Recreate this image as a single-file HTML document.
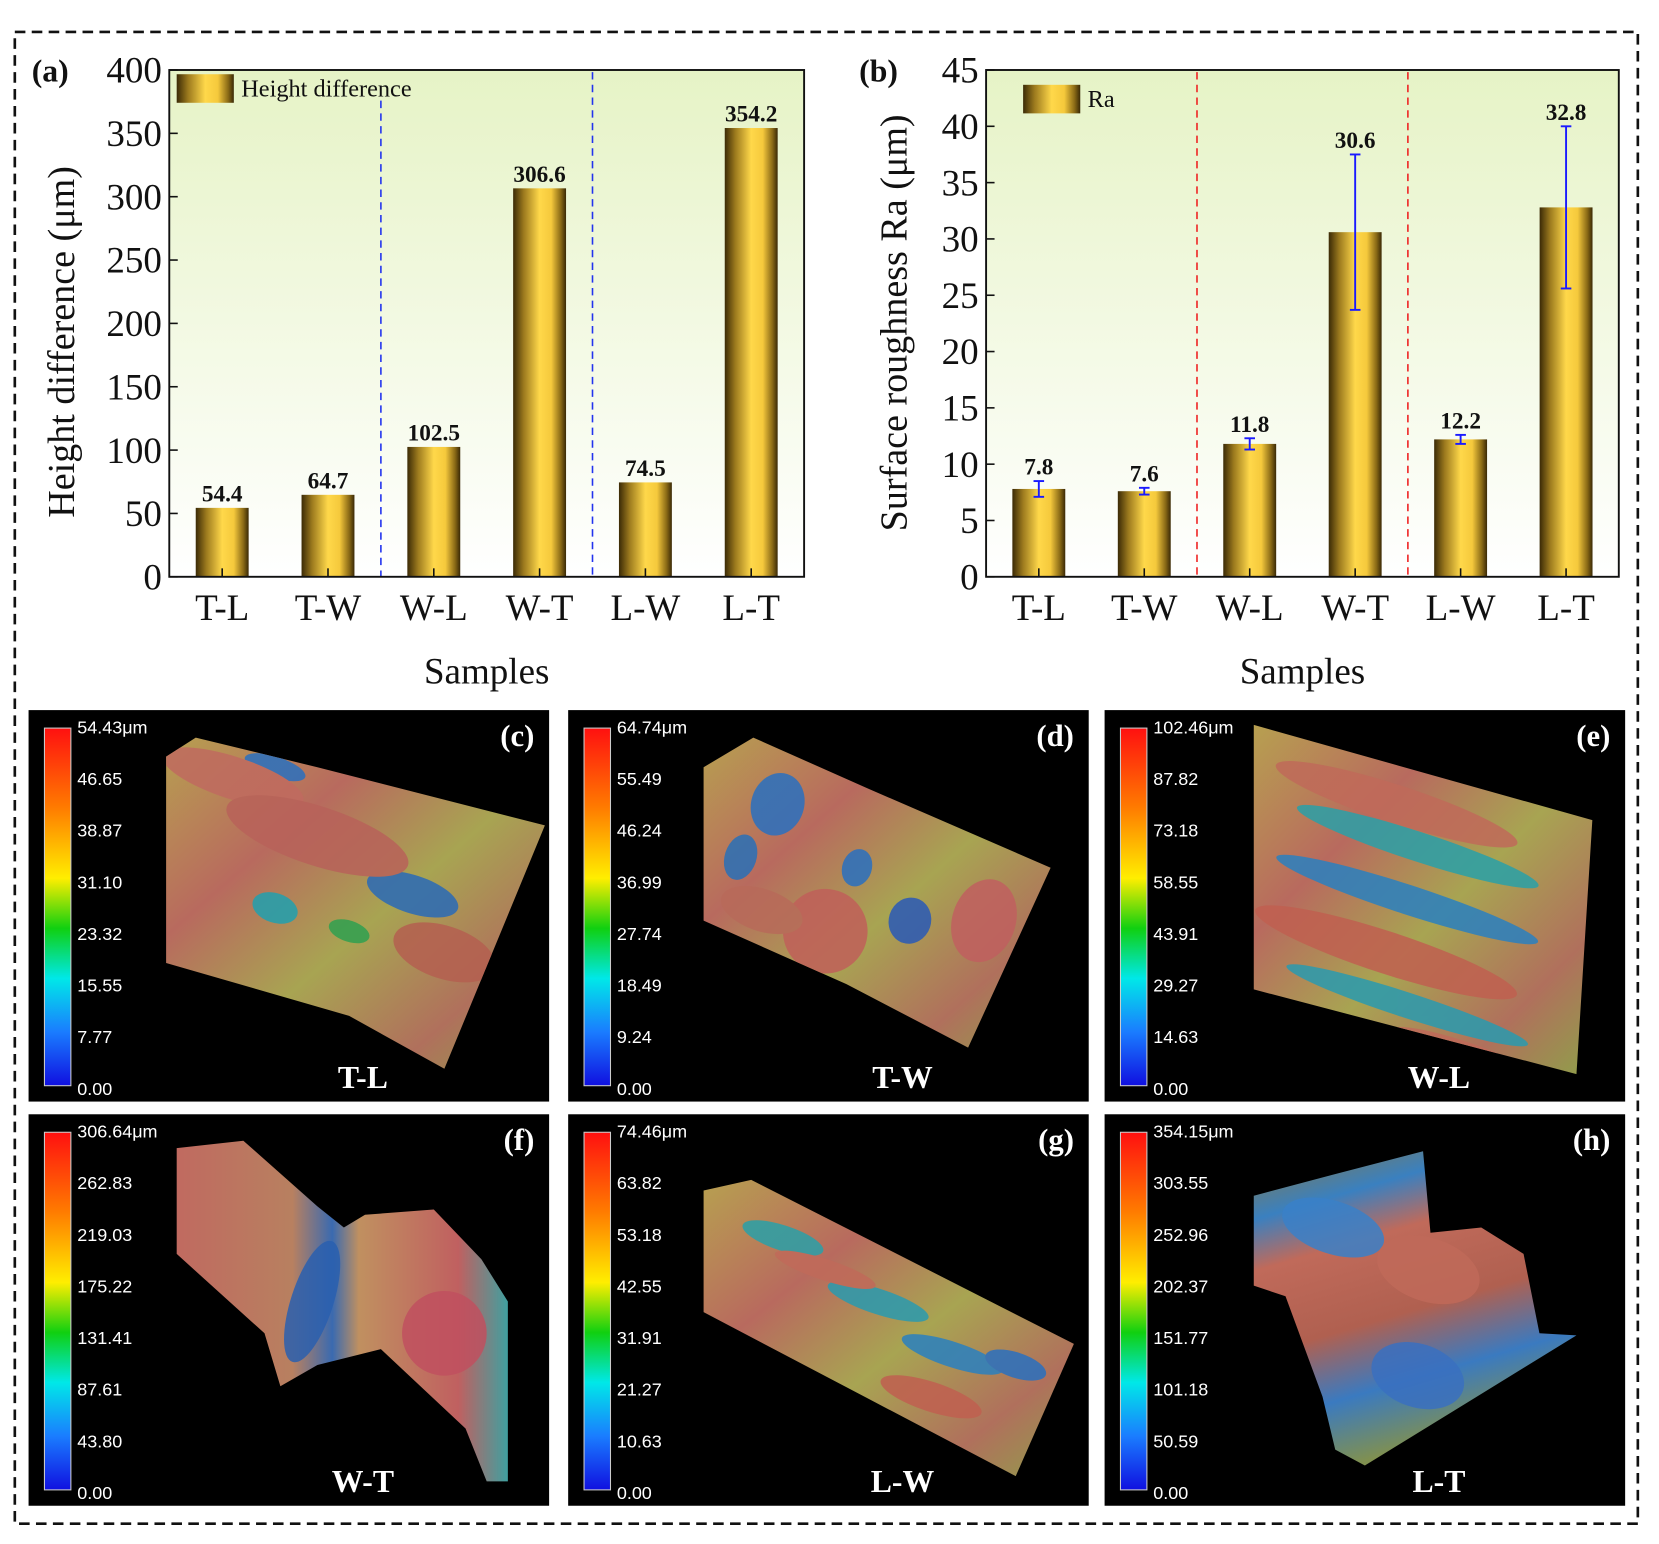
<!DOCTYPE html>
<html><head><meta charset="utf-8"><style>
html,body{margin:0;padding:0;background:#fff;width:1659px;height:1544px;overflow:hidden}
svg{display:block}
</style></head><body>
<svg id="fig" width="1659" height="1544" viewBox="0 0 1568 1459" xmlns="http://www.w3.org/2000/svg" font-family="'Liberation Serif', serif">
<defs>
<linearGradient id="barg" x1="0" x2="1" y1="0" y2="0">
<stop offset="0" stop-color="#3b2a06"/><stop offset="0.2" stop-color="#9c7a1e"/><stop offset="0.5" stop-color="#ffd84a"/><stop offset="0.72" stop-color="#f5c93c"/><stop offset="0.9" stop-color="#8a6a16"/><stop offset="1" stop-color="#3a2906"/>
</linearGradient>
<linearGradient id="bgg" x1="0" x2="0" y1="0" y2="1">
<stop offset="0" stop-color="#e6f3c6"/><stop offset="1" stop-color="#ffffff"/>
</linearGradient>
<linearGradient id="cbar" x1="0" x2="0" y1="0" y2="1">
<stop offset="0" stop-color="#ff1010"/><stop offset="0.22" stop-color="#ff7a00"/><stop offset="0.42" stop-color="#ffee00"/><stop offset="0.56" stop-color="#10d010"/><stop offset="0.7" stop-color="#00e8e8"/><stop offset="0.85" stop-color="#1a7cff"/><stop offset="1" stop-color="#1010e0"/>
</linearGradient>
<linearGradient id="surfA" x1="0" x2="1" y1="0" y2="1">
<stop offset="0" stop-color="#b7a050"/><stop offset="0.3" stop-color="#b86a5e"/><stop offset="0.55" stop-color="#a8a452"/><stop offset="0.8" stop-color="#b0705c"/><stop offset="1" stop-color="#8fa04a"/>
</linearGradient>
<linearGradient id="surfF" x1="0" x2="1" y1="0" y2="0">
<stop offset="0" stop-color="#c06a60"/><stop offset="0.35" stop-color="#b88060"/><stop offset="0.47" stop-color="#3a6ab0"/><stop offset="0.55" stop-color="#c09060"/><stop offset="0.85" stop-color="#c06060"/><stop offset="1" stop-color="#40a0a0"/>
</linearGradient>
<linearGradient id="surfH" x1="0" x2="0.3" y1="0" y2="1">
<stop offset="0" stop-color="#8a7a40"/><stop offset="0.2" stop-color="#3a80c0"/><stop offset="0.35" stop-color="#c06a5a"/><stop offset="0.6" stop-color="#b06050"/><stop offset="0.8" stop-color="#3a7ac0"/><stop offset="1" stop-color="#809050"/>
</linearGradient>
</defs>
<rect x="14" y="30" width="1534" height="1410" fill="none" stroke="#111" stroke-width="2.5" stroke-dasharray="10,6"/>
<g id="charts"></g>
<g id="panels"></g>
</svg>
<script>
const NS='http://www.w3.org/2000/svg';
const categories=['T-L','T-W','W-L','W-T','L-W','L-T'];
const heightValues=[54.4,64.7,102.5,306.6,74.5,354.2];
const heightTicks=[0,50,100,150,200,250,300,350,400];
const raValues=[7.8,7.6,11.8,30.6,12.2,32.8];
const raErrors=[0.7,0.3,0.5,6.9,0.4,7.2];
const raTicks=[0,5,10,15,20,25,30,35,40,45];

function mk(tag,attrs,parent){const e=document.createElementNS(NS,tag);for(const k in attrs)e.setAttribute(k,attrs[k]);parent.appendChild(e);return e;}
const charts=document.getElementById('charts');

function chart(o){
  const g=mk('g',{},charts);
  
  
  const x0=o.x0,x1=o.x1,y0=66,y1=545;
  const yS=v=>y1-(v-o.min)/(o.max-o.min)*(y1-y0);
  const bw=(x1-x0)/categories.length;
  const xC=i=>x0+bw*(i+0.5);
  const bg=mk('rect',{x:x0,y:y0,width:x1-x0,height:y1-y0,fill:'url(#bgg)'},g);
  
  
  [2,4].forEach((k,j)=>{const l=mk('line',{x1:x0+bw*k,x2:x0+bw*k,y1:o.divTop[j],y2:y1,stroke:o.divColor,'stroke-width':1.5,'stroke-dasharray':'7,5'},g);
    
    });
  o.values.forEach((v,i)=>{
    const r=mk('rect',{x:xC(i)-25,y:yS(v),width:50,height:y1-yS(v),fill:'url(#barg)'},g);
    
    
    let top=yS(v);
    if(o.errors){
      const e=o.errors[i],ya=yS(v+e),yb=yS(v-e);
      const eg=mk('g',{stroke:'#1a1aff','stroke-width':1.8},g);
      
      
      mk('line',{x1:xC(i),x2:xC(i),y1:ya,y2:yb},eg);
      mk('line',{x1:xC(i)-5,x2:xC(i)+5,y1:ya,y2:ya},eg);
      mk('line',{x1:xC(i)-5,x2:xC(i)+5,y1:yb,y2:yb},eg);
      top=Math.min(top,ya);
    }
    const t=mk('text',{x:xC(i),y:top-6,'text-anchor':'middle','font-size':22,'font-weight':'bold',fill:'#111'},g);
    t.textContent=String(v);
    
    
    mk('line',{x1:xC(i),x2:xC(i),y1:y1,y2:y1-8,stroke:'#111','stroke-width':1.5},g);
    const xl=mk('text',{x:xC(i),y:586,'text-anchor':'middle','font-size':35,fill:'#111'},g);
    xl.textContent=categories[i];
    
    
  });
  o.ticks.forEach(v=>{
    mk('line',{x1:x0,x2:x0+8,y1:yS(v),y2:yS(v),stroke:'#111','stroke-width':1.5},g);
    const t=mk('text',{x:x0-7,y:yS(v)+12,'text-anchor':'end','font-size':35,fill:'#111'},g);
    t.textContent=String(v);
    
    
  });
  const fr=mk('rect',{x:x0,y:y0,width:x1-x0,height:y1-y0,fill:'none',stroke:'#111','stroke-width':1.8},g);
  
  
  const sw=mk('rect',{x:o.legX,y:o.legY,width:54,height:27,fill:'url(#barg)'},g);
  
  
  const lt=mk('text',{x:o.legX+61,y:o.legY+21,'font-size':23,fill:'#111'},g);
  lt.textContent=o.legend;
  
  
  const pl=mk('text',{x:o.plX,y:77,'font-size':30,'font-weight':'bold',fill:'#111'},g);
  pl.textContent=o.panel;
  
  
  const xt=mk('text',{x:(x0+x1)/2,y:646,'text-anchor':'middle','font-size':35,fill:'#111'},g);
  xt.textContent='Samples';
  
  
  const yt=mk('text',{x:0,y:0,'text-anchor':'middle','font-size':36,fill:'#111',transform:`translate(${o.ytX},${o.ytY}) rotate(-90)`},g);
  yt.textContent=o.ytitle;
  
  
}
chart({name:'height-difference-chart',x0:160,x1:760,min:0,max:400,values:heightValues,ticks:heightTicks,divColor:'#2233ee',divTop:[95,68],legX:167,legY:70,legend:'Height difference',panel:'(a)',plX:30,ytX:70,ytY:323,ytitle:'Height difference (μm)'});
chart({name:'surface-roughness-chart',x0:932,x1:1530,min:0,max:45,values:raValues,errors:raErrors,ticks:raTicks,divColor:'#ee2222',divTop:[68,68],legX:967,legY:80,legend:'Ra',panel:'(b)',plX:812,ytX:857,ytY:305,ytitle:'Surface roughness Ra (μm)'});

const panelDefs=[
 {x:27,y:671,tag:'(c)',name:'T-L',max:'54.43μm',labels:['46.65','38.87','31.10','23.32','15.55','7.77','0.00'],
  poly:'157,715 185,697 300,725 515,780 420,1010 330,960 157,910',blobs:[[260,725,30,10,'#2a70c0'],[390,845,45,18,'#2a6ab8'],[260,858,22,14,'#20a0b0'],[220,735,70,20,'#c06a60'],[300,790,90,28,'#b8625a'],[420,900,50,25,'#b46050'],[330,880,20,10,'#30a050']]},
 {x:537,y:671,tag:'(d)',name:'T-W',max:'64.74μm',labels:['55.49','46.24','36.99','27.74','18.49','9.24','0.00'],
  poly:'665,725 712,697 820,745 993,820 915,990 800,930 665,870',blobs:[[735,760,25,30,'#2a70c0'],[700,810,15,22,'#2870b8'],[810,820,14,18,'#2a70c0'],[860,870,20,22,'#2a5ab8'],[780,880,40,40,'#c0605a'],[930,870,30,40,'#c06060'],[720,860,40,20,'#b86a5a']]},
 {x:1044,y:671,tag:'(e)',name:'W-L',max:'102.46μm',labels:['87.82','73.18','58.55','43.91','29.27','14.63','0.00'],
  poly:'1185,685 1505,775 1490,1015 1185,935',blobs:[[1340,800,120,14,'#2aa0a8'],[1330,850,130,14,'#2a80c0'],[1320,760,120,18,'#c06a5a'],[1310,900,130,20,'#c06050'],[1330,950,120,12,'#2a9ab0'],[1380,995,70,12,'#c06a5a']]},
 {x:27,y:1053,tag:'(f)',name:'W-T',max:'306.64μm',labels:['262.83','219.03','175.22','131.41','87.61','43.80','0.00'],
  poly:'167,1085 230,1078 300,1140 325,1160 345,1148 410,1143 455,1190 480,1230 480,1400 460,1400 440,1350 360,1275 300,1290 265,1310 250,1260 167,1185',fill:'url(#surfF)',blobs:[[295,1230,20,60,'#2a60b0'],[420,1260,40,40,'#c05060']]},
 {x:537,y:1053,tag:'(g)',name:'L-W',max:'74.46μm',labels:['63.82','53.18','42.55','31.91','21.27','10.63','0.00'],
  poly:'665,1125 710,1115 1015,1270 960,1395 665,1240',blobs:[[740,1170,40,12,'#2aa0a8'],[830,1230,50,12,'#2a9ab0'],[900,1280,50,12,'#2a80c0'],[780,1200,50,10,'#c06a5a'],[880,1320,50,14,'#c06050'],[960,1290,30,12,'#2a70c0']]},
 {x:1044,y:1053,tag:'(h)',name:'L-T',max:'354.15μm',labels:['303.55','252.96','202.37','151.77','101.18','50.59','0.00'],
  poly:'1185,1130 1260,1110 1345,1088 1352,1165 1400,1160 1440,1185 1455,1260 1490,1262 1290,1385 1262,1370 1250,1320 1215,1225 1185,1215',fill:'url(#surfH)',blobs:[[1260,1160,50,25,'#3a80c8'],[1340,1300,45,30,'#3a70c0'],[1350,1200,50,30,'#c06a5a']]}
];
const panels=document.getElementById('panels');
panelDefs.forEach((p,pi)=>{
  const g=mk('g',{},panels);
  
  
  mk('rect',{x:p.x,y:p.y,width:492,height:370,fill:'#000'},g);
  const cid='clip'+pi;
  const cp=mk('clipPath',{id:cid},g);
  mk('polygon',{points:p.poly},cp);
  const s=mk('polygon',{points:p.poly,fill:p.fill||'url(#surfA)'},g);
  
  
  const bg=mk('g',{'clip-path':`url(#${cid})`,opacity:0.85},g);
  p.blobs.forEach(b=>mk('ellipse',{cx:b[0],cy:b[1],rx:b[2],ry:b[3],fill:b[4],transform:`rotate(18 ${b[0]} ${b[1]})`},bg));
  const cb=mk('rect',{x:p.x+15,y:p.y+17,width:25,height:338,fill:'url(#cbar)',stroke:'#ccc','stroke-width':1},g);
  
  
  const all=[p.max].concat(p.labels);
  all.forEach((t,i)=>{
    const e=mk('text',{x:p.x+46,y:p.y+22+i*48.8,'font-family':"'Liberation Sans', sans-serif",'font-size':17,fill:'#fff'},g);
    e.textContent=t;
    
    
  });
  const tg=mk('text',{x:p.x+478,y:p.y+34,'text-anchor':'end','font-size':29,'font-weight':'bold',fill:'#fff'},g);
  tg.textContent=p.tag;
  
  
  const nm=mk('text',{x:p.x+316,y:p.y+357,'text-anchor':'middle','font-size':30,'font-weight':'bold',fill:'#fff'},g);
  nm.textContent=p.name;
  
  
});
</script>
</body></html>
